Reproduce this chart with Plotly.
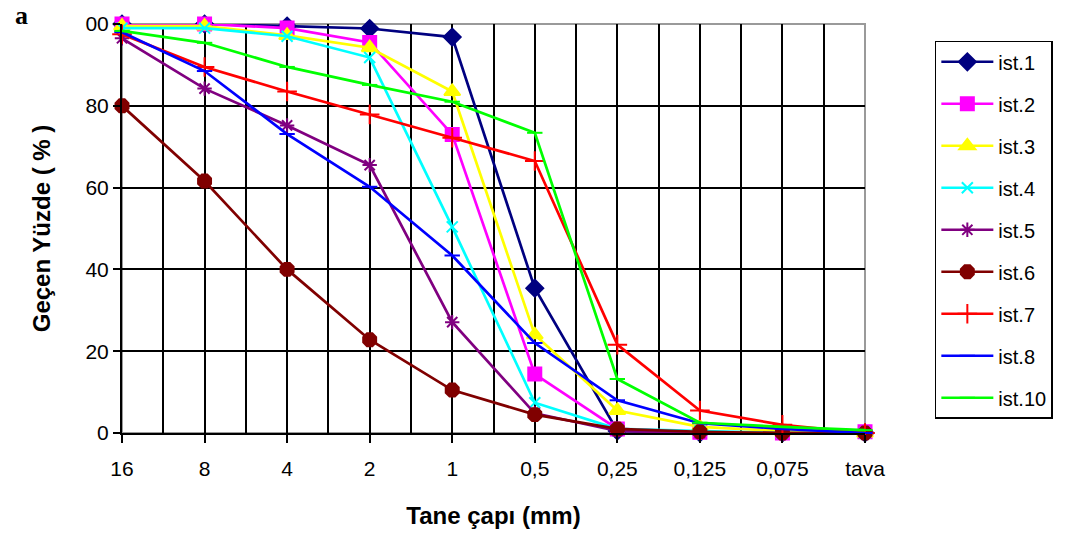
import plotly.graph_objects as go

# Sieve sizes (mm) along the x axis
sieves = ["16", "8", "4", "2", "1", "0,5", "0,25", "0,125", "0,075", "tava"]

# Cumulative percent passing for each station
ist1 = [100, 100, 99.5, 98.9, 96.8, 35.4, 0.5, 0, 0, 0]
ist2 = [100, 100, 99.0, 95.5, 73.0, 14.4, 1.0, 0.2, 0, 0.3]
ist3 = [99.5, 99.5, 97.2, 94.2, 83.5, 24.0, 5.5, 1.5, 0.5, 0]
ist4 = [99.0, 99.0, 97.0, 91.8, 50.4, 7.4, 1.0, 0.5, 0, 0]
ist5 = [96.5, 84.2, 75.2, 65.5, 27.1, 4.8, 0.5, 0, 0, 0]
ist6 = [80.0, 61.6, 40.0, 22.8, 10.5, 4.5, 1.0, 0.3, 0, 0]
ist7 = [97.5, 89.5, 83.5, 77.9, 72.2, 66.5, 21.6, 5.5, 2.0, 0]
ist8 = [98.0, 88.5, 73.1, 60.2, 43.4, 22.0, 8.0, 2.4, 1.0, 0]
ist10 = [98.3, 95.4, 89.5, 85.1, 81.0, 73.4, 13.2, 2.5, 1.5, 0.7]

series = [
    ("ist.1", ist1, "#000080", "diamond", 13),
    ("ist.2", ist2, "#FF00FF", "square", 13),
    ("ist.3", ist3, "#FFFF00", "triangle-up", 14),
    ("ist.4", ist4, "#00FFFF", "x-thin-open", 11),
    ("ist.5", ist5, "#800080", "asterisk-open", 12),
    ("ist.6", ist6, "#800000", "octagon", 14),
    ("ist.7", ist7, "#FF0000", "cross-thin-open", 14),
    ("ist.8", ist8, "#0000FF", "line-ew-open", 11),
    ("ist.10", ist10, "#00FF00", "line-ew-open", 11),
]

xpos = list(range(len(sieves)))

fig = go.Figure()
for i, (name, vals, color, symbol, size) in enumerate(series):
    fig.add_trace(go.Scatter(
        x=xpos, y=vals, name=name, mode="lines+markers",
        line=dict(color=color, width=2.7),
        marker=dict(symbol=symbol, size=size, color=color,
                    line=dict(color=color, width=2)),
        cliponaxis=False, legendgroup=f"g{i}",
    ))

sans = "Liberation Sans, Arial, sans-serif"
tick_font = dict(family=sans, size=21, color="#000")
title_font = dict(family=sans, size=24, color="#000")

fig.update_layout(
    width=1068, height=540,
    margin=dict(l=122, r=203, t=16, b=107),
    paper_bgcolor="white", plot_bgcolor="white",
    showlegend=True,
    legend=dict(
        x=1.094, y=0.959, xanchor="left", yanchor="top",
        bgcolor="white", bordercolor="#000", borderwidth=1.5,
        font=dict(family=sans, size=20, color="#000"),
        tracegroupgap=13, itemwidth=52,
    ),
    xaxis=dict(
        range=[0, 9], tickmode="array", tickvals=xpos, ticktext=sieves,
        showgrid=False, zeroline=False,
        showline=True, linecolor="#000", linewidth=2,
        ticks="outside", ticklen=8, tickwidth=1.5, tickcolor="#000",
        tickfont=tick_font, ticklabelstandoff=8,
        title=dict(text="<b>Tane çapı (mm)</b>", font=title_font, standoff=28),
        minor=dict(tickmode="array",
                   tickvals=[k * 0.5 for k in range(1, 18)],
                   showgrid=True, gridcolor="#000", gridwidth=1.5, ticks=""),
    ),
    yaxis=dict(
        range=[0, 100], tickmode="array", tickvals=[0, 20, 40, 60, 80, 100],
        ticktext=["0", "20", "40", "60", "80", "00"],
        showgrid=False, zeroline=False,
        showline=True, linecolor="#000", linewidth=2,
        ticks="outside", ticklen=7, tickwidth=1.5, tickcolor="#000",
        tickfont=tick_font,
        title=dict(text="<b>Geçen Yüzde ( % )</b>", font=title_font, standoff=28),
        minor=dict(tickmode="array", tickvals=[20, 40, 60, 80],
                   showgrid=True, gridcolor="#000", gridwidth=1.5, ticks=""),
    ),
    shapes=[dict(type="rect", xref="paper", yref="paper", x0=0, y0=0, x1=1, y1=1,
                 line=dict(color="#9a9a9a", width=2), layer="below")],
    annotations=[dict(text="<b>a</b>", xref="paper", yref="paper",
                      x=-0.147, y=1.02, xanchor="left", yanchor="middle",
                      showarrow=False,
                      font=dict(family="Liberation Serif, Times New Roman, serif",
                                size=26, color="#000"))],
)

fig.write_html("out.html")
